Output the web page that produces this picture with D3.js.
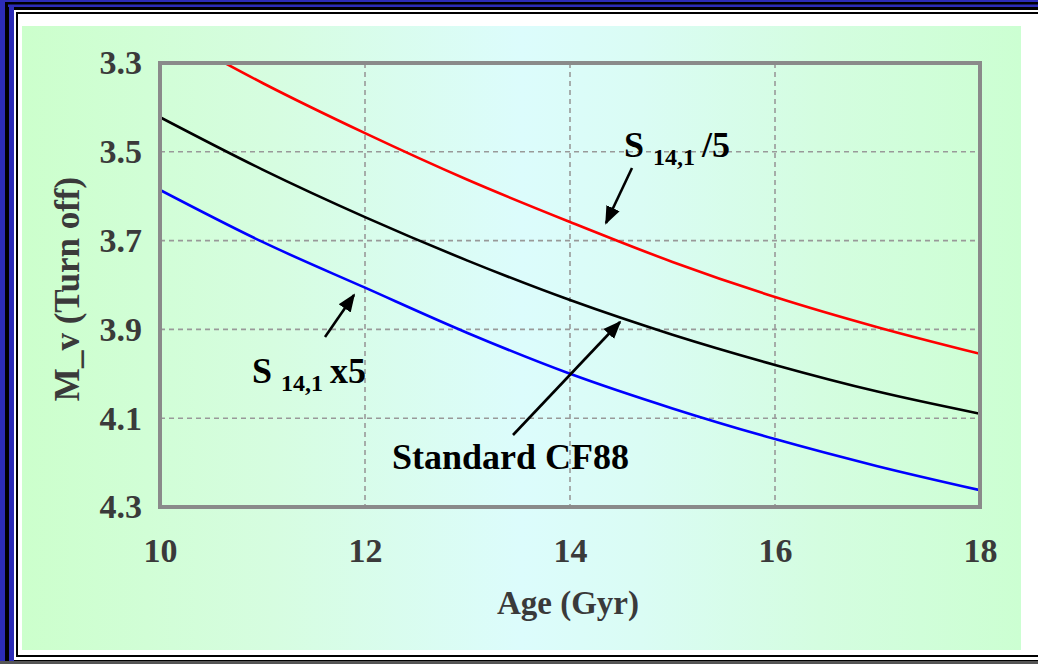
<!DOCTYPE html>
<html><head><meta charset="utf-8">
<script src="https://cdn.jsdelivr.net/npm/d3@7/dist/d3.min.js"></script>
<style>html,body{margin:0;padding:0;overflow:hidden;background:#fff}</style>
</head><body><svg id="c" width="1038" height="664"></svg>
<script>
const ages = [10, 11, 12, 13, 14, 15, 16, 17, 18];
const standardCF88 = [3.422, 3.540, 3.647, 3.745, 3.834, 3.912, 3.980, 4.040, 4.090];
const s141div5   = [3.220, 3.345, 3.458, 3.563, 3.658, 3.748, 3.827, 3.895, 3.955];
const s141x5     = [3.586, 3.703, 3.806, 3.908, 4.000, 4.078, 4.147, 4.208, 4.262];
const xTicks = [10, 12, 14, 16, 18];
const yTicks = [3.3, 3.5, 3.7, 3.9, 4.1, 4.3];

const svg = d3.select("#c");
const W = 1038, H = 664;
// window frame
svg.append("rect").attr("x",0).attr("y",0).attr("width",W).attr("height",H).attr("fill","#2c2cb8");
svg.append("rect").attr("x",5).attr("y",2).attr("width",W).attr("height",H).attr("fill","#000");
svg.append("rect").attr("x",8).attr("y",4.5).attr("width",W).attr("height",2.5).attr("fill","#2c2cb8");
svg.append("rect").attr("x",9).attr("y",7).attr("width",5).attr("height",H).attr("fill","#2c2cb8");
svg.append("rect").attr("x",14).attr("y",10).attr("width",W).attr("height",650).attr("fill","#fff");
svg.append("rect").attr("x",16).attr("y",12).attr("width",W).attr("height",645).attr("fill","#000");
svg.append("rect").attr("x",18).attr("y",14).attr("width",W).attr("height",641).attr("fill","#fff");
svg.append("rect").attr("x",0).attr("y",661).attr("width",W).attr("height",3).attr("fill","#555");

// background gradient
const defs = svg.append("defs");
const g = defs.append("linearGradient").attr("id","bg").attr("x1","0").attr("x2","1").attr("y1","0").attr("y2","0");
[[0,"#ccffcc"],[0.25,"#d6fde0"],[0.5,"#dcfcfc"],[0.62,"#dafcf4"],[0.8,"#d4fde0"],[1,"#ccffd2"]]
  .forEach(([o,c])=>g.append("stop").attr("offset",o).attr("stop-color",c));
svg.append("rect").attr("x",22).attr("y",26).attr("width",999).attr("height",624).attr("fill","url(#bg)");

const m = {l:160, t:63, r:980, b:507};
const x = d3.scaleLinear().domain([10,18]).range([m.l, m.r]);
const y = d3.scaleLinear().domain([3.3,4.3]).range([m.t, m.b]);

// grid
const grid = svg.append("g").attr("stroke","#999").attr("stroke-width",1.6).attr("stroke-dasharray","5,4");
xTicks.slice(1,-1).forEach(v=>grid.append("line").attr("x1",x(v)).attr("x2",x(v)).attr("y1",m.t).attr("y2",m.b));
yTicks.slice(1,-1).forEach(v=>grid.append("line").attr("x1",m.l).attr("x2",m.r).attr("y1",y(v)).attr("y2",y(v)));

// curves
defs.append("clipPath").attr("id","clip").append("rect").attr("x",m.l).attr("y",m.t).attr("width",m.r-m.l).attr("height",m.b-m.t);
const line = d3.line().x((d,i)=>x(ages[i])).y(d=>y(d)).curve(d3.curveMonotoneX);
const cg = svg.append("g").attr("clip-path","url(#clip)");
[[s141div5,"#ff0000"],[standardCF88,"#000000"],[s141x5,"#0000ff"]].forEach(([s,c])=>{
  cg.append("path").datum(s).attr("d",line).attr("fill","none").attr("stroke",c).attr("stroke-width",2.6);
});

// plot frame
svg.append("rect").attr("x",m.l).attr("y",m.t).attr("width",m.r-m.l).attr("height",m.b-m.t)
  .attr("fill","none").attr("stroke","#8a8a8a").attr("stroke-width",4);

// axes (via d3 axis, styled)
const font = "'Liberation Serif','Times New Roman',serif";
const xAxis = svg.append("g").attr("transform",`translate(0,${m.b})`)
  .call(d3.axisBottom(x).tickValues(xTicks).tickSize(0).tickPadding(31).tickFormat(d3.format("d")));
const yAxis = svg.append("g").attr("transform",`translate(${m.l},0)`)
  .call(d3.axisLeft(y).tickValues(yTicks).tickSize(0).tickPadding(18).tickFormat(d3.format(".1f")));
[xAxis,yAxis].forEach(a=>{
  a.select(".domain").remove();
  a.selectAll("text").attr("font-family",font).attr("font-weight","bold").attr("font-size",34).attr("fill","#3a3a3a");
});

// axis titles
svg.append("text").attr("x",568).attr("y",614).attr("text-anchor","middle")
  .attr("font-family",font).attr("font-weight","bold").attr("font-size",33).attr("fill","#3a3a3a").text("Age (Gyr)");
svg.append("text").attr("transform","translate(79,289) rotate(-90)").attr("text-anchor","middle")
  .attr("font-family",font).attr("font-weight","bold").attr("font-size",35).attr("fill","#3a3a3a").text("M_v (Turn off)");

// annotations
defs.append("marker").attr("id","ah").attr("viewBox","0 0 10 10").attr("refX",9).attr("refY",5)
  .attr("markerWidth",7).attr("markerHeight",7).attr("markerUnits","strokeWidth").attr("orient","auto")
  .append("path").attr("d","M0,1 L10,5 L0,9 z").attr("fill","#000");
function arrow(x1,y1,x2,y2){
  svg.append("line").attr("x1",x1).attr("y1",y1).attr("x2",x2).attr("y2",y2)
    .attr("stroke","#000").attr("stroke-width",2.6).attr("marker-end","url(#ah)");
}
arrow(632,168,606,223);
arrow(325,337,354,295);
arrow(513,435,620,322);

function label(xp, yp, main, sub, tail){
  const t = svg.append("text").attr("x",xp).attr("y",yp).attr("font-family",font).attr("font-weight","bold")
    .attr("font-size",36).attr("fill","#000");
  t.append("tspan").text(main);
  if(sub){
    t.append("tspan").attr("font-size",24).attr("dx",9).attr("dy",8).text(sub);
    t.append("tspan").attr("dx",7).attr("dy",-8).text(tail);
  }
}
label(624,157,"S","14,1","/5");
label(252,383,"S","14,1","x5");
label(392,469,"Standard CF88");
</script></body></html>
